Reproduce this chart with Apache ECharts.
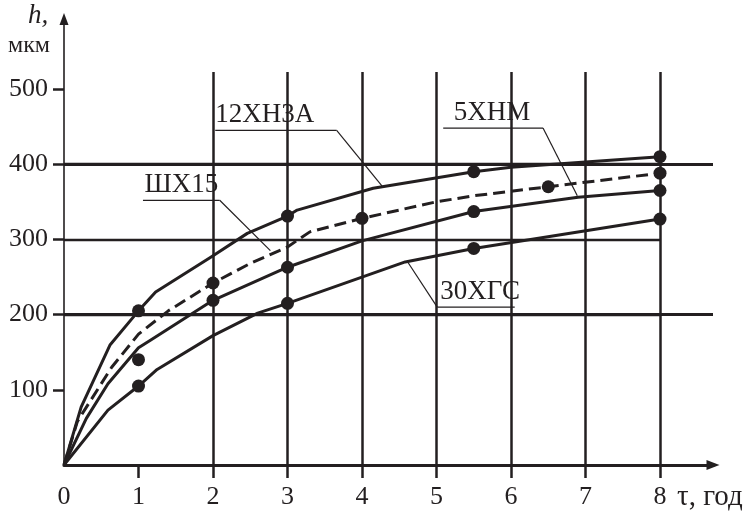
<!DOCTYPE html>
<html><head><meta charset="utf-8">
<script src="https://cdn.jsdelivr.net/npm/echarts@6/dist/echarts.min.js"></script>
<style>html,body{margin:0;padding:0;background:#fff}#c{width:754px;height:513px}</style>
</head><body><div id="c"></div>
<script>
// ---- data ----
const xTickLabels = [0,1,2,3,4,5,6,7,8];
const xTickMarks = [1,2,3,4,5,6,7,8];
const yTickLabels = [100,200,300,400,500];

// curves (polyline vertices)
const line12XN3A = [[0,0],[0.23,77],[0.62,160],[1,205],[1.23,230],[1.98,277],[2.46,308],[3,331],[3.13,339],[4.15,368],[5.5,390],[6,396],[8,410]];
const lineShKh15 = [[0,0],[0.18,58],[0.64,130],[1,174],[1.4,205],[2,242],[2.5,268],[3,290],[3.3,310],[4,328],[5,350],[5.5,358],[6.5,370],[8,388]];
const line5XNM   = [[0,0],[0.3,62],[0.59,108],[1,156],[1.16,166],[2,219],[3,263],[4,298],[5.5,337],[6.9,356],[8,365]];
const line30XGS  = [[0,0],[0.59,73],[1,105],[1.25,127],[2,172],[2.6,202],[3,215],[4.58,270],[5.5,288],[8,327]];

// measured points (dots)
const dots12XN3A = [[1,205],[3,331],[5.5,390],[8,410]];
const dotsShKh15 = [[2,242],[4,328],[6.5,370],[8,388]];
const dots5XNM   = [[1,140],[2,219],[3,263],[5.5,337],[8,365]];
const dots30XGS  = [[1,105],[3,215],[5.5,288],[8,327]];

// curve labels: name, underline start, underline end, leader end (data coords)
const labelNames = ['12ХН3А','ШХ15','5ХНМ','30ХГС'];
const labelUnderlines = [[[2.03,445],[3.66,445]],[[1.06,352],[2.09,352]],[[5.09,448],[6.43,448]],[[5.01,210],[6.05,210]]];
const labelLeaders = [[[3.66,445],[4.27,371]],[[2.09,352],[2.77,285]],[[6.43,448],[6.89,358]],[[5.01,210],[4.62,269]]];
const labelTextStart = [[2.03,445],[1.08,352],[5.23,448],[5.05,210]];

const ink = '#231f20';
const serif = '"Liberation Serif", "DejaVu Serif", serif';

const chart = echarts.init(document.getElementById('c'), null, {renderer:'canvas'});

function lineSeries(data, dashed){
  return {type:'line', xAxisIndex:1, yAxisIndex:1, data:data, symbol:'none', showSymbol:false,
    clip:false, silent:true, z:5,
    lineStyle:{color:ink, width:3, opacity:1, type: dashed ? [12,6] : 'solid', cap:'butt', join:'round'}};
}
function dotSeries(data){
  return {type:'scatter', xAxisIndex:1, yAxisIndex:1, data:data, symbol:'circle', symbolSize:13,
    clip:false, silent:true, z:6, itemStyle:{color:ink, opacity:1}};
}

const option = {
  animation:false,
  backgroundColor:'#fff',
  grid:[
    {left:64, right:41, top:19, bottom:48},
    {left:64, right:94, top:72, bottom:48}
  ],
  xAxis:[
    {gridIndex:0, type:'value', min:0, max:8.71,
      axisLine:{show:true, onZero:false, lineStyle:{color:ink, width:3}, symbol:['none','triangle'], symbolSize:[10,13]},
      axisTick:{show:false}, axisLabel:{show:false}, splitLine:{show:false}},
    {gridIndex:1, type:'value', min:0, max:8, interval:1,
      axisLine:{show:false},
      axisTick:{show:true, customValues:xTickMarks, length:13, lineStyle:{color:ink, width:2.5}},
      axisLabel:{show:true, customValues:xTickLabels, margin:19, fontSize:26, fontFamily:serif, color:ink},
      splitLine:{show:true, showMinLine:false, lineStyle:{color:ink, width:2.5}}}
  ],
  yAxis:[
    {gridIndex:0, type:'value', min:0, max:593, interval:200,
      axisLine:{show:true, onZero:false, lineStyle:{color:ink, width:1.6}, symbol:['none','triangle'], symbolSize:[9,12]},
      axisTick:{show:false}, axisLabel:{show:false},
      splitLine:{show:true, showMinLine:false, showMaxLine:false, lineStyle:{color:ink, width:3}}},
    {gridIndex:1, type:'value', min:0, max:522.6, interval:100,
      axisLine:{show:false},
      axisTick:{show:true, customValues:yTickLabels, length:11, lineStyle:{color:ink, width:2.5}},
      axisLabel:{show:true, customValues:yTickLabels, margin:16, fontSize:26, fontFamily:serif, color:ink},
      splitLine:{show:true, showMinLine:false, showMaxLine:false, lineStyle:{color:ink, width:2.3}}}
  ],
  series:[
    lineSeries(line12XN3A,false),
    lineSeries(lineShKh15,true),
    lineSeries(line5XNM,false),
    lineSeries(line30XGS,false),
    dotSeries(dots12XN3A),
    dotSeries(dotsShKh15),
    dotSeries(dots5XNM),
    dotSeries(dots30XGS)
  ]
};
chart.setOption(option);

// annotations (positions derived from data coordinates)
const px = p => chart.convertToPixel({gridIndex:1}, p);
const graphics = [];
labelNames.forEach((name,i)=>{
  const u0 = px(labelUnderlines[i][0]), u1 = px(labelUnderlines[i][1]);
  const l0 = px(labelLeaders[i][0]), l1 = px(labelLeaders[i][1]);
  const t = px(labelTextStart[i]);
  graphics.push({type:'polyline', silent:true, z:10, shape:{points:[u0,u1]}, style:{stroke:ink, lineWidth:1.2, fill:null}});
  graphics.push({type:'polyline', silent:true, z:10, shape:{points:[l0,l1]}, style:{stroke:ink, lineWidth:1.2, fill:null}});
  graphics.push({type:'text', silent:true, z:10, x:t[0], y:t[1]-2,
    style:{text:name, font:'27px ' + serif, fill:ink, align:'left', verticalAlign:'bottom', textAlign:'left', textVerticalAlign:'bottom'}});
});
const origin = px([0,0]);
graphics.push({type:'text', silent:true, z:10, x:28, y:16, style:{text:'h,', font:'italic 27px ' + serif, fill:ink, align:'left', verticalAlign:'middle', textAlign:'left', textVerticalAlign:'middle'}});
graphics.push({type:'text', silent:true, z:10, x:8, y:46, style:{text:'мкм', font:'24px ' + serif, fill:ink, align:'left', verticalAlign:'middle', textAlign:'left', textVerticalAlign:'middle'}});
graphics.push({type:'text', silent:true, z:10, x:677, y:origin[1]+32, style:{text:'τ, год', font:'29px ' + serif, fill:ink, align:'left', verticalAlign:'middle', textAlign:'left', textVerticalAlign:'middle'}});
chart.setOption({graphic:graphics});
</script>
</body></html>
